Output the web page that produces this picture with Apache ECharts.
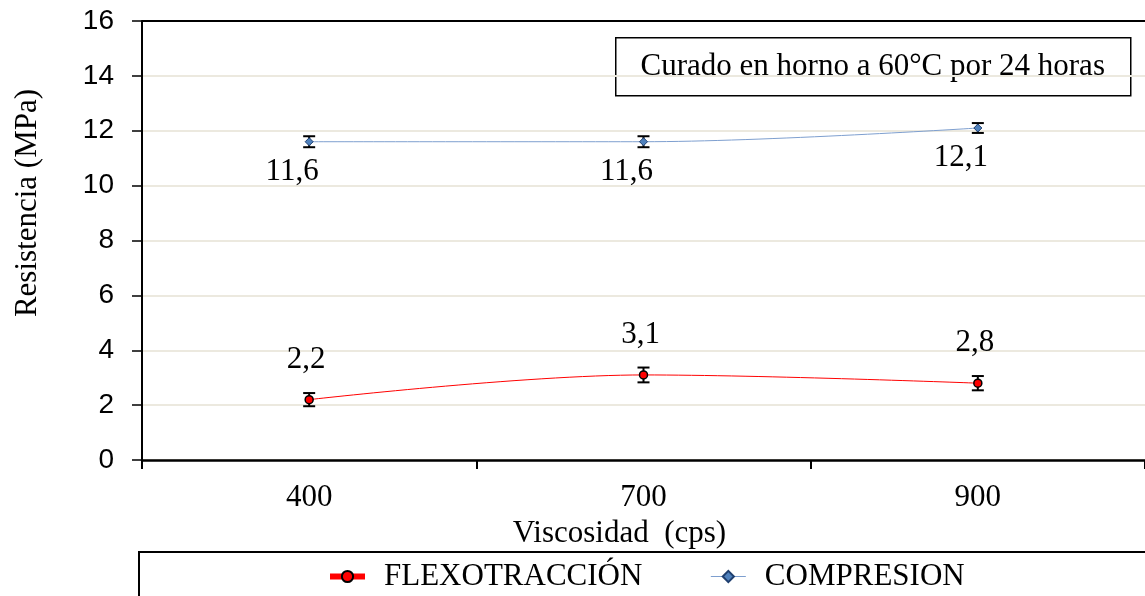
<!DOCTYPE html>
<html>
<head>
<meta charset="utf-8">
<style>
  html, body { margin: 0; padding: 0; background: #fff; }
  #chart { width: 1145px; height: 596px; }
</style>
<script src="https://cdn.jsdelivr.net/npm/echarts@6/dist/echarts.min.js"></script>
</head>
<body>
<div id="chart"></div>
<script>
// Viscosity groups (cps)
const categories = ['400', '700', '900'];
// Mean strengths (MPa) and their standard deviations
const flexValues = [2.2, 3.1, 2.8];
const flexErrors = [0.24, 0.27, 0.26];
const compValues = [11.6, 11.6, 12.1];
const compErrors = [0.2, 0.2, 0.18];
const yTicks = [0, 2, 4, 6, 8, 10, 12, 14, 16];

const SERIF = "'Liberation Serif', 'Times New Roman', serif";
const SANS = "'Liberation Sans', Arial, sans-serif";

const chart = echarts.init(document.getElementById('chart'), null, { renderer: 'canvas' });

const fmt = v => v.toFixed(1).replace('.', ',');

// Custom renderer for vertical error bars with caps
function errorBar() {
  return function (params, api) {
    const i = api.value(0);
    const lo = api.coord([i, api.value(1)]);
    const hi = api.coord([i, api.value(2)]);
    const half = 6;
    const style = { stroke: '#000', lineWidth: 2 };
    return {
      type: 'group',
      children: [
        { type: 'line', shape: { x1: hi[0], y1: hi[1], x2: lo[0], y2: lo[1] }, style },
        { type: 'line', shape: { x1: hi[0] - half, y1: hi[1], x2: hi[0] + half, y2: hi[1] }, style },
        { type: 'line', shape: { x1: lo[0] - half, y1: lo[1], x2: lo[0] + half, y2: lo[1] }, style }
      ]
    };
  };
}

const flexBars = categories.map((c, i) => [i, flexValues[i] - flexErrors[i], flexValues[i] + flexErrors[i]]);
const compBars = categories.map((c, i) => [i, compValues[i] - compErrors[i], compValues[i] + compErrors[i]]);

const option = {
  animation: false,
  grid: { left: 142, top: 21, right: 0, bottom: 136, containLabel: false },
  xAxis: {
    type: 'category',
    data: categories,
    boundaryGap: true,
    axisLine: { show: true, lineStyle: { color: '#000', width: 2.5 } },
    axisTick: { show: true, inside: false, length: 9, alignWithLabel: false, lineStyle: { color: '#000', width: 2 } },
    axisLabel: { color: '#000', fontFamily: SERIF, fontSize: 31, margin: 22 },
    splitLine: { show: false },
    name: 'Viscosidad  (cps)',
    nameLocation: 'middle',
    nameGap: 56,
    nameTextStyle: { color: '#000', fontFamily: SERIF, fontSize: 31, padding: [0, 48, 0, 0] }
  },
  yAxis: {
    type: 'value',
    min: yTicks[0],
    max: yTicks[yTicks.length - 1],
    interval: 2,
    axisLine: { show: true, onZero: false, lineStyle: { color: '#000', width: 2 } },
    axisTick: { show: true, inside: false, length: 10, lineStyle: { color: '#000', width: 1.5 } },
    axisLabel: { color: '#000', fontFamily: SANS, fontSize: 28, margin: 28 },
    splitLine: { show: true, lineStyle: { color: '#ECE9DF', width: 2 } }
  },
  legend: {
    left: 327,
    top: 561,
    padding: 0,
    itemWidth: 35,
    itemHeight: 14,
    itemGap: 68,
    textStyle: { color: '#000', fontFamily: SERIF, fontSize: 31, padding: [0, 0, 0, 14] },
    data: [
      { name: 'FLEXOTRACCIÓN', lineStyle: { width: 6, color: '#FF0000' } },
      { name: 'COMPRESION', lineStyle: { width: 1, color: '#7E9FCF' } }
    ]
  },
  graphic: [
    // plot area top border
    { type: 'line', shape: { x1: 142, y1: 21, x2: 1145, y2: 21 }, style: { stroke: '#000', lineWidth: 2 }, z: 10 },
    // annotation box
    {
      type: 'group', left: 615, top: 37, z: 20,
      children: [
        { type: 'rect', shape: { x: 0, y: 0, width: 515, height: 58 }, style: { fill: '#fff', stroke: '#000', lineWidth: 1.5 } },
        { type: 'text', x: 257, y: 29, style: { text: 'Curado en horno a 60°C por 24 horas', fill: '#000', font: '31px ' + SERIF, textAlign: 'center', textVerticalAlign: 'middle' } }
      ]
    },
    // y axis title
    {
      type: 'text', x: 28, y: 203, rotation: Math.PI / 2,
      style: { text: 'Resistencia (MPa)', fill: '#000', font: '31px ' + SERIF, textAlign: 'center', textVerticalAlign: 'middle' }
    },
    // legend frame
    { type: 'rect', shape: { x: 139, y: 552, width: 1020, height: 60 }, style: { fill: 'none', stroke: '#000', lineWidth: 2 }, z: -1 }
  ],
  series: [
    {
      name: 'FLEXOTRACCIÓN',
      type: 'line',
      data: flexValues,
      smooth: 0.35,
      symbol: 'circle',
      symbolSize: 8,
      itemStyle: { color: '#FF0000', borderColor: '#000', borderWidth: 1.5 },
      lineStyle: { color: '#FF0000', width: 1 },
      label: {
        show: true, position: 'top', distance: 20, offset: [-3, 0],
        color: '#000', fontFamily: SERIF, fontSize: 31,
        formatter: p => fmt(p.value)
      },
      z: 5
    },
    {
      name: 'COMPRESION',
      type: 'line',
      data: compValues,
      smooth: 0.35,
      symbol: 'diamond',
      symbolSize: 8,
      itemStyle: { color: '#4F81BD', borderColor: '#1F3F6F', borderWidth: 1 },
      lineStyle: { color: '#7E9FCF', width: 1 },
      label: {
        show: true, position: 'bottom', distance: 10, offset: [-17, 0],
        color: '#000', fontFamily: SERIF, fontSize: 31,
        formatter: p => fmt(p.value)
      },
      z: 5
    },
    {
      type: 'custom',
      renderItem: errorBar(),
      data: flexBars,
      encode: { x: 0, y: [1, 2] },
      z: 4,
      silent: true
    },
    {
      type: 'custom',
      renderItem: errorBar(),
      data: compBars,
      encode: { x: 0, y: [1, 2] },
      z: 4,
      silent: true
    }
  ]
};

chart.setOption(option);
</script>
</body>
</html>
